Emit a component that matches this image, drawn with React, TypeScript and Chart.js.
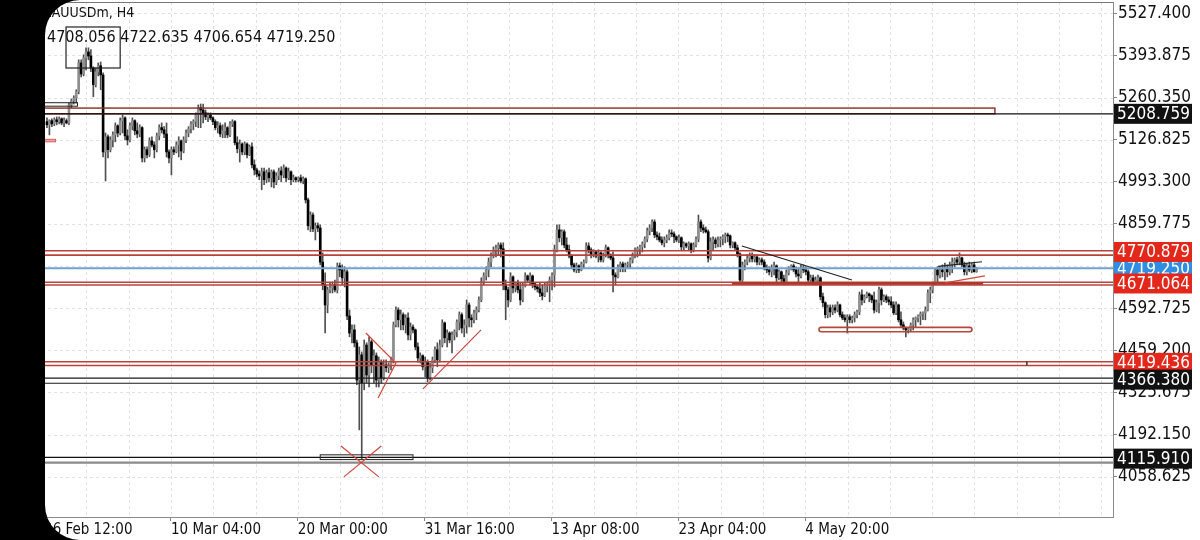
import React, { useEffect, useRef } from "react";
import { Chart, registerables } from "chart.js";

Chart.register(...registerables);

// ---------- OHLC data (XAUUSDm, H4) ----------
const opens = [
  5184,5174,5187,5177,5190,5184,5193,5180,5187,5180,
  5237,5250,5259,5279,5370,5335,5386,5405,5392,5354,
  5301,5342,5361,5332,5088,5136,5095,5126,5142,5171,
  5148,5187,5196,5139,5126,5171,5187,5155,5145,5165,
  5069,5095,5079,5123,5110,5095,5139,5165,5158,5145,
  5088,5069,5095,5088,5110,5123,5091,5126,5148,5161,
  5177,5184,5205,5228,5221,5212,5199,5205,5196,5184,
  5165,5171,5145,5155,5165,5142,5177,5184,5117,5098,
  5113,5088,5113,5079,5104,5047,5031,5018,5012,5025,
  5000,5022,5006,5025,4993,5012,5028,5015,5037,5006,
  5025,5000,5006,5000,5006,4996,5003,4936,4854,4888,
  4844,4854,4847,4739,4667,4603,4651,4657,4667,4651,
  4727,4714,4689,4708,4568,4514,4524,4483,4365,4445,
  4356,4476,4381,4486,4413,4442,4365,4422,4372,4413,
  4404,4413,4429,4540,4587,4556,4572,4540,4562,4508,
  4533,4524,4470,4435,4442,4407,4422,4372,4404,4429,
  4461,4429,4476,4546,4499,4514,4492,4508,4518,4549,
  4572,4530,4540,4603,4562,4556,4578,4587,4619,4676,
  4695,4714,4739,4758,4778,4784,4793,4781,4667,4651,
  4619,4692,4657,4670,4651,4619,4663,4695,4682,4695,
  4670,4660,4654,4641,4632,4663,4670,4682,4698,4778,
  4841,4816,4835,4793,4778,4758,4730,4714,4727,
  4714,4733,4739,4790,4778,4762,4771,4758,4768,4746,4762,4784,4762,
  4752,4698,4692,4724,4733,4720,4730,4733,
  4746,4762,4778,4781,4787,4797,4812,4838,4847,4866,4825,4819,4809,4800,4809,4816,4831,
  4828,4819,4809,4816,4787,4797,4790,4797,4778,
  4793,4812,4866,4847,4841,4835,4752,4803,4809,4797,4809,4812,
  4819,4825,4822,4793,4800,4784,4765,4682,4730,4739,4752,4758,4749,4755,4739,
  4746,4739,4720,4714,4708,4720,4727,4689,4708,4686,4676,4705,4717,
  4727,4714,4701,4695,4720,4714,4708,4682,4689,4676,4682,4689,4629,4610,4572,4594,4581,4594,4587,4603,4572,4562,4556,4565,4556,4562,4572,4581,4635,4619,4629,
  4638,4632,4619,4587,4610,4651,4619,4629,4619,4613,4603,4578,4603,4556,4540,4530,4524,4527,4540,4556,
  4562,4568,4575,4578,4587,4641,4651,4670,4714,4698,4714,4708,4720,4708,4730,4739,4746,4739,4752,4730,4708,4727,4714,4730,4708.056,
];

const highs = [
  5196,5190,5193,5196,5199,5199,5196,5196,5193,5243,
  5256,5266,5285,5380,5380,5396,5418,5418,5412,5358,
  5354,5370,5373,5339,5148,5142,5136,5152,5180,5174,
  5196,5205,5199,5158,5180,5196,5190,5180,5174,5168,
  5104,5104,5133,5136,5120,5148,5174,5180,5168,5180,
  5095,5104,5104,5120,5136,5126,5136,5158,5168,5184,
  5190,5212,5237,5240,5240,5221,5212,5212,5199,5190,
  5184,5180,5174,5180,5168,5184,5190,5187,5136,5126,
  5117,5120,5117,5110,5117,5063,5037,5028,5037,5037,
  5031,5037,5031,5031,5022,5037,5041,5047,5041,5037,
  5028,5015,5009,5009,5015,5009,5006,4942,4898,4895,
  4863,4863,4857,4768,4705,4660,4673,4676,4682,4736,
  4736,4730,4724,4714,4587,4540,4540,4492,4470,4454,
  4492,4483,4502,4492,4461,4451,4438,4429,4429,4429,
  4419,4438,4549,4597,4594,4587,4578,4572,4578,4546,
  4540,4527,4483,4451,4445,4438,4429,4419,4438,4470,
  4483,4492,4556,4549,4524,4518,4518,4524,4556,4581,
  4578,4556,4619,4610,4572,4587,4597,4629,4689,4705,
  4724,4752,4768,4787,4793,4800,4800,4800,4682,4660,
  4705,4695,4676,4682,4673,4673,4705,4698,4705,4698,
  4673,4667,4673,4667,4673,4676,4692,4705,4793,4857,
  4857,4841,4841,4816,4793,4762,4736,4736,4730,
  4739,4746,4800,4800,4784,4778,4774,4778,4771,4768,4793,4787,4765,
  4771,4705,4730,4739,4739,4736,4739,4752,
  4768,4784,4787,4793,4803,4819,4847,4857,4873,4873,4835,4831,4819,4819,4825,4841,4841,
  4835,4822,4825,4819,4803,4800,4803,4800,4800,
  4819,4888,4873,4857,4850,4841,4816,4819,4816,4819,4819,4825,
  4831,4831,4825,4803,4803,4793,4768,4739,4746,4762,4768,4768,4762,4762,4752,
  4752,4746,4730,4724,4730,4739,4730,4714,4711,4698,4714,4724,4730,
  4733,4724,4720,4730,4730,4724,4714,4698,4698,4692,4698,4692,4641,4613,4603,4603,4603,4603,4613,4606,4581,4572,4572,4572,4568,4581,4587,4644,4651,4635,4644,
  4641,4635,4644,4619,4660,4657,4635,4635,4629,4629,4613,4613,4606,4581,4549,4533,4530,4546,4562,4565,
  4572,4581,4581,4597,4651,4660,4676,4720,4724,4724,4730,4736,4730,4739,4752,4752,4755,4768,4755,4739,4736,4739,4736,4739,4722.635,
];

const lows = [
  5165,5142,5168,5171,5174,5177,5174,5168,5177,5174,
  5228,5240,5243,5272,5326,5329,5348,5380,5342,5263,
  5294,5329,5285,5072,4996,5069,5088,5104,5120,5136,
  5142,5148,5126,5110,5120,5158,5142,5133,5136,5056,
  5056,5069,5073,5104,5069,5088,5126,5148,5133,5072,
  5053,5015,5079,5085,5072,5063,5085,5117,5136,5148,
  5158,5168,5165,5165,5180,5190,5184,5190,5174,5158,
  5148,5136,5133,5133,5133,5136,5168,5110,5085,5056,
  5079,5079,5069,5076,5037,5015,5009,5000,4968,4984,
  4990,4993,4977,4974,4984,5000,4993,5006,4993,5000,
  4984,4993,4993,4993,4990,4987,4926,4841,4835,4835,
  4809,4835,4730,4651,4514,4578,4641,4641,4644,4641,
  4692,4667,4660,4556,4502,4483,4470,4350,4207,4116,
  4334,4356,4343,4388,4356,4343,4343,4356,4365,4391,
  4388,4397,4419,4533,4533,4524,4524,4514,4492,4492,
  4514,4461,4422,4419,4397,4375,4359,4365,4388,4419,
  4407,4422,4470,4483,4470,4483,4451,4492,4502,4524,
  4514,4502,4514,4533,4533,4546,4556,4581,4613,4667,
  4682,4692,4724,4752,4755,4762,4755,4651,4556,4597,
  4613,4641,4644,4641,4603,4613,4660,4673,4667,4657,
  4651,4644,4629,4619,4629,4644,4613,4651,4660,4771,
  4803,4793,4784,4771,4752,4720,4708,4705,4705,
  4711,4720,4736,4768,4752,4755,4752,4739,4739,4739,4755,4752,4746,
  4644,4667,4689,4708,4708,4708,4720,4720,
  4736,4752,4755,4762,4771,4784,4803,4825,4835,4816,4809,4803,4793,4787,4800,4809,4819,
  4800,4803,4800,4778,4778,4784,4778,4768,4771,
  4787,4803,4835,4831,4831,4739,4746,4778,4784,4787,4787,4793,
  4800,4803,4784,4784,4778,4755,4673,4673,4714,4730,4739,4739,4739,4730,4730,
  4730,4714,4705,4698,4692,4698,4673,4682,4676,4667,4673,4698,4714,
  4708,4692,4676,4689,4705,4698,4673,4673,4667,4667,4676,4619,4597,4562,4562,4565,4572,4578,4581,4565,4556,4549,4514,4546,4546,4549,4562,4572,4603,4610,4625,
  4613,4610,4578,4581,4578,4603,4613,4610,4603,4594,4572,4572,4549,4533,4524,4502,4514,4518,4524,4533,
  4549,4540,4556,4556,4584,4610,4641,4667,4676,4689,4692,4682,4692,4698,4705,4724,4730,4730,4724,4698,4698,4708,4705,4708,4706.654,
];

const closes = [
  5174,5187,5177,5190,5184,5193,5180,5187,5180,5237,
  5250,5259,5279,5370,5335,5386,5405,5392,5354,5301,
  5342,5361,5332,5088,5136,5095,5126,5142,5171,5148,
  5187,5196,5139,5126,5171,5187,5155,5145,5165,5069,
  5095,5079,5123,5110,5095,5139,5165,5158,5145,5088,
  5069,5095,5088,5110,5123,5091,5126,5148,5161,5177,
  5184,5205,5228,5221,5212,5199,5205,5196,5184,5165,
  5171,5145,5155,5165,5142,5177,5184,5117,5098,5113,
  5088,5113,5079,5104,5047,5031,5018,5012,5025,5000,
  5022,5006,5025,4993,5012,5028,5015,5037,5006,5025,
  5000,5006,5000,5006,4996,5003,4936,4854,4888,4844,
  4854,4847,4739,4667,4603,4651,4657,4667,4651,4727,
  4714,4689,4708,4568,4514,4524,4483,4365,4445,4356,
  4476,4381,4486,4413,4442,4365,4422,4372,4413,4404,
  4413,4429,4540,4587,4556,4572,4540,4562,4508,4533,
  4524,4470,4435,4442,4407,4422,4372,4404,4429,4461,
  4429,4476,4546,4499,4514,4492,4508,4518,4549,4572,
  4530,4540,4603,4562,4556,4578,4587,4619,4676,4695,
  4714,4739,4758,4778,4784,4793,4781,4667,4651,4619,
  4692,4657,4670,4651,4619,4663,4695,4682,4695,4670,
  4660,4654,4641,4632,4663,4670,4682,4698,4778,4841,
  4816,4835,4793,4778,4758,4730,4714,4727,4714,
  4733,4739,4790,4778,4762,4771,4758,4768,4746,4762,4784,4762,4752,
  4698,4692,4724,4733,4720,4730,4733,4746,
  4762,4778,4781,4787,4797,4812,4838,4847,4866,4825,4819,4809,4800,4809,4816,4831,4828,
  4819,4809,4816,4787,4797,4790,4797,4778,4793,
  4812,4866,4847,4841,4835,4752,4803,4809,4797,4809,4812,4819,
  4825,4822,4793,4800,4784,4765,4682,4730,4739,4752,4758,4749,4755,4739,4746,
  4739,4720,4714,4708,4720,4727,4689,4708,4686,4676,4705,4717,4727,
  4714,4701,4695,4720,4714,4708,4682,4689,4676,4682,4689,4629,4610,4572,4594,4581,4594,4587,4603,4572,4562,4556,4565,4556,4562,4572,4581,4635,4619,4629,4638,
  4632,4619,4587,4610,4651,4619,4629,4619,4613,4603,4578,4603,4556,4540,4530,4524,4527,4540,4556,4562,
  4568,4575,4578,4587,4641,4651,4670,4714,4698,4714,4708,4720,4708,4730,4739,4746,4739,4752,4730,4708,4727,4714,4730,4708,4719.25,
];

// ---------- axes ----------
const priceTicks = [4058.625, 4192.15, 4325.675, 4459.2, 4592.725, 4726.25, 4859.775, 4993.3, 5126.825, 5260.35, 5393.875, 5527.4];
const dateLabels = ["26 Feb 12:00", "10 Mar 04:00", "20 Mar 00:00", "31 Mar 16:00", "13 Apr 08:00", "23 Apr 04:00", "4 May 20:00"];
const dateLabelBars = [-1.2, 50.8, 102.8, 154.8, 206.8, 258.8, 310.8];
const X_MIN = -4.5;
const X_MAX = 436.9;
const Y_MIN = 3930.9;
const Y_MAX = 5563.2;

const titleText = "XAUUSDm, H4";
const ohlcText = "4708.056 4722.635 4706.654 4719.250";

// ---------- drawn objects (bar index, price) ----------
const tagValues = [4719.25, 5208.759, 4770.879, 4671.064, 4419.436, 4366.38, 4115.91];
const redZones = [[4761, 4775], [4666, 4675], [4411, 4423]];
const blackZones = [[4355, 4371]];
const blueLevel = 4719.25;
const resistanceLine = 5208.759;
const topZone = [-6, 388.5, 5209, 5227];
const bottomPair = [4103, 4120];
const ohlcBox = [7.8, 30, 5354, 5484];
const smallBox = [-6, 12.5, 5233, 5244];
const pinkBox = [-1.5, 3.5, 5120, 5128];
const lowBox = [112, 150, 4113, 4128];
const crossA = [[120.5, 4156], [136, 4058]];
const crossB = [[121.7, 4058], [137, 4156]];
const triangle = [[130.7, 4514], [143, 4419], [135.7, 4308]];
const trendRed = [[154.1, 4337], [177.9, 4524]];
const trendBlack = [[284.8, 4790], [329.9, 4682]];
const supportSeg = [280.7, 383.6, 4671];
const rangeBox = [316.4, 379.1, 4518, 4532];
const channelTop = [[365.2, 4725], [383.2, 4740]];
const channelBottom = [[368, 4673], [384.4, 4695]];
const tinyMark = [401.6, 4412, 4424];

const FONT = '"DejaVu Sans Condensed", "DejaVu Sans", sans-serif';
const TAG_COLORS = ["#2f8de4", "#111111", "#e3281b", "#e3281b", "#e3281b", "#111111", "#111111"];

export default function App() {
  const ref = useRef<HTMLCanvasElement>(null);

  useEffect(() => {
    const canvas = ref.current;
    if (!canvas) return;
    const idx = closes.map((_, i) => i);
    const wickData = idx.map((i) => ({ x: i, y: [lows[i], highs[i]] }));
    const bodyData = idx.map((i) => ({ x: i, y: [opens[i], closes[i]] }));
    const bodyColors = idx.map((i) => (closes[i] >= opens[i] ? "#8f8f8f" : "#000000"));

    const plugin = {
      id: "mt5look",
      beforeDatasetsDraw(chart: any) {
        const { ctx, chartArea: a, scales } = chart;
        const x = scales.x, y = scales.y;
        ctx.save();
        ctx.beginPath();
        ctx.rect(a.left, a.top, a.right - a.left, a.bottom - a.top);
        ctx.clip();
        ctx.strokeStyle = "#e2e2e2";
        ctx.lineWidth = 1;
        ctx.setLineDash([3, 3]);
        for (const v of priceTicks) {
          const py = Math.round(y.getPixelForValue(v)) + 0.5;
          ctx.beginPath(); ctx.moveTo(a.left, py); ctx.lineTo(a.right, py); ctx.stroke();
        }
        const step = (dateLabelBars[1] - dateLabelBars[0]) / 3;
        for (let v = dateLabelBars[0]; v <= X_MAX; v += step) {
          const px = Math.round(x.getPixelForValue(v)) + 0.5;
          ctx.beginPath(); ctx.moveTo(px, a.top); ctx.lineTo(px, a.bottom); ctx.stroke();
        }
        ctx.restore();
      },
      afterDatasetsDraw(chart: any) {
        const { ctx, chartArea: a, scales } = chart;
        const X = (v: number) => scales.x.getPixelForValue(v);
        const Y = (v: number) => scales.y.getPixelForValue(v);
        ctx.save();
        ctx.beginPath();
        ctx.rect(a.left, a.top, a.right - a.left, a.bottom - a.top);
        ctx.clip();
        const line = (x0: number, y0: number, x1: number, y1: number, color: string, w: number) => {
          ctx.strokeStyle = color; ctx.lineWidth = w;
          ctx.beginPath(); ctx.moveTo(x0, y0); ctx.lineTo(x1, y1); ctx.stroke();
        };
        const hl = (v: number, color: string, w: number) => line(a.left, Y(v), a.right, Y(v), color, w);
        const box = (b: number[], color: string, w: number, fill?: string) => {
          const x0 = X(b[0]), x1 = X(b[1]), y0 = Y(b[3]), y1 = Y(b[2]);
          if (fill) { ctx.fillStyle = fill; ctx.fillRect(x0, y0, x1 - x0, y1 - y0); }
          ctx.strokeStyle = color; ctx.lineWidth = w;
          ctx.strokeRect(x0, y0, x1 - x0, y1 - y0);
        };
        const seg = (p: number[][], color: string, w: number) => {
          ctx.strokeStyle = color; ctx.lineWidth = w;
          ctx.beginPath();
          p.forEach((q, k) => (k ? ctx.lineTo(X(q[0]), Y(q[1])) : ctx.moveTo(X(q[0]), Y(q[1]))));
          ctx.stroke();
        };

        // zones
        box(topZone, "#8a2a24", 1.4);
        hl(resistanceLine, "#111", 1.2);
        for (const z of redZones) { hl(z[0], "#b9433a", 1.6); hl(z[1], "#b9433a", 1.6); }
        for (const z of blackZones) { hl(z[0], "#1a1a1a", 1.1); hl(z[1], "#1a1a1a", 1.1); }
        hl(blueLevel, "#6fa3d2", 2);
        hl(bottomPair[1], "#111", 1.2);
        hl(bottomPair[0], "#8a8a8a", 2.2);

        // small objects
        box(ohlcBox, "#222", 1.2);
        box(smallBox, "#222", 1);
        box(pinkBox, "#d26464", 1, "#f1a3a3");
        box(lowBox, "#333", 1.1);
        seg(crossA, "#d1473c", 1.2);
        seg(crossB, "#d1473c", 1.2);
        seg(triangle, "#d1473c", 1.2);
        seg(trendRed, "#cc4a40", 1.2);
        seg(trendBlack, "#222", 1.2);
        line(X(supportSeg[0]), Y(supportSeg[2]), X(supportSeg[1]), Y(supportSeg[2]), "#b0352b", 2.6);
        {
          const x0 = X(rangeBox[0]), x1 = X(rangeBox[1]), y0 = Y(rangeBox[3]), y1 = Y(rangeBox[2]);
          ctx.strokeStyle = "#b5483d"; ctx.lineWidth = 1.6;
          ctx.beginPath();
          (ctx as any).roundRect(x0, y0, x1 - x0, y1 - y0, 3);
          ctx.stroke();
        }
        seg(channelTop, "#222", 1.2);
        seg(channelBottom, "#cc4a40", 1.2);
        line(X(tinyMark[0]), Y(tinyMark[1]), X(tinyMark[0]), Y(tinyMark[2]), "#333", 1.5);
        ctx.restore();
      },
      afterDraw(chart: any) {
        const { ctx, chartArea: a, scales, width: W, height: H } = chart;
        const Y = (v: number) => scales.y.getPixelForValue(v);
        ctx.save();
        ctx.strokeStyle = "#777"; ctx.lineWidth = 1;
        ctx.beginPath(); ctx.moveTo(a.left, a.top + 0.5); ctx.lineTo(a.right, a.top + 0.5); ctx.stroke();

        ctx.font = `17px ${FONT}`;
        ctx.textBaseline = "middle";
        ctx.textAlign = "left";
        tagValues.forEach((v, k) => {
          const cy = Y(v);
          ctx.fillStyle = TAG_COLORS[k];
          ctx.fillRect(a.right + 1, cy - 10, 78, 20);
          ctx.fillStyle = "#fff";
          ctx.fillText(v.toFixed(3), a.right + 4, cy + 1);
        });

        ctx.fillStyle = "#111";
        ctx.font = `14px ${FONT}`;
        ctx.fillText(titleText, 43, 13);
        ctx.font = `16px ${FONT}`;
        ctx.fillText(ohlcText, 47, 38);

        ctx.fillStyle = "#000";
        ctx.beginPath();
        ctx.rect(0, 0, W, H);
        (ctx as any).roundRect(45, 0, W + 60, H, [35, 0, 0, 35]);
        ctx.fill("evenodd");
        ctx.restore();
      },
    };

    const chart = new Chart(canvas, {
      type: "bar",
      data: {
        datasets: [
          { data: wickData as any, backgroundColor: "#505050", barThickness: 1, grouped: false, order: 2, borderWidth: 0 } as any,
          { data: bodyData as any, backgroundColor: bodyColors, barThickness: 2, grouped: false, order: 1, borderWidth: 0, minBarLength: 1 } as any,
        ],
      },
      options: {
        animation: false,
        responsive: false,
        devicePixelRatio: 1,
        layout: { padding: { left: 36, top: 2, right: 0, bottom: 0 } },
        plugins: { legend: { display: false }, tooltip: { enabled: false } },
        scales: {
          x: {
            type: "linear",
            min: X_MIN,
            max: X_MAX,
            bounds: "data",
            offset: false,
            grid: { display: true, drawOnChartArea: false, drawTicks: true, tickLength: 4, color: "#888", offset: false },
            border: { display: true, color: "#8a8a8a" },
            ticks: {
              autoSkip: false,
              maxRotation: 0,
              minRotation: 0,
              align: "start",
              padding: 0,
              color: "#111",
              font: { family: FONT, size: 15 },
              callback: (_v: any, i: number) => dateLabels[i] ?? "",
            },
            afterBuildTicks: (s: any) => { s.ticks = dateLabelBars.map((v) => ({ value: v })); },
            afterFit: (s: any) => { s.height = 23; s.paddingLeft = 0; s.paddingRight = 0; },
          } as any,
          y: {
            type: "linear",
            position: "right",
            min: Y_MIN,
            max: Y_MAX,
            bounds: "data",
            beginAtZero: false,
            grid: { display: true, drawOnChartArea: false, drawTicks: true, tickLength: 4, color: "#888" },
            border: { display: true, color: "#8a8a8a" },
            ticks: {
              padding: 1,
              color: "#111",
              font: { family: FONT, size: 17 },
              callback: (v: any) => Number(v).toFixed(3),
            },
            afterBuildTicks: (s: any) => { s.ticks = priceTicks.map((v) => ({ value: v })); },
            afterFit: (s: any) => { s.width = 87; s.paddingTop = 0; s.paddingBottom = 0; },
          } as any,
        },
      },
      plugins: [plugin],
    });
    return () => chart.destroy();
  }, []);

  return (
    <div style={{ position: "fixed", left: 0, top: 0, width: 1200, height: 540, background: "#fff" }}>
      <canvas ref={ref} width={1200} height={540} style={{ display: "block", width: 1200, height: 540 }} />
    </div>
  );
}
